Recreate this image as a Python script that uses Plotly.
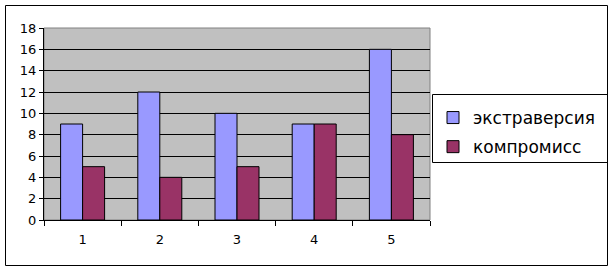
import plotly.graph_objects as go

categories = ["1", "2", "3", "4", "5"]
extraversion = [9, 12, 10, 9, 16]
compromise = [5, 4, 5, 9, 8]
series_names = ["экстраверсия", "компромисс"]
colors = ["#9999FF", "#993366"]

L, R, T, B = 44, 430, 28, 220
W, H = 613, 269
pw, ph = R - L, B - T

def px(x):
    return (x - L) / pw

def py(y):
    return (B - y) / ph

fig = go.Figure()
for i, (name, vals) in enumerate(zip(series_names, [extraversion, compromise])):
    fig.add_trace(go.Bar(
        x=categories, y=vals, name=name,
        marker=dict(color=colors[i], line=dict(color="black", width=1)),
        legendgroup=f"g{i}",
    ))

fig.update_layout(
    width=W, height=H,
    margin=dict(l=L, r=W - R, t=T, b=H - B, pad=0),
    paper_bgcolor="white",
    plot_bgcolor="#C0C0C0",
    barmode="group",
    bargap=0.43,
    bargroupgap=0,
    font=dict(family="DejaVu Sans", size=13, color="black"),
    showlegend=True,
    legend=dict(
        x=px(433), y=py(100), xanchor="left", yanchor="top",
        bgcolor="rgba(0,0,0,0)", borderwidth=0,
        font=dict(size=17, family="DejaVu Sans"),
        tracegroupgap=4,
        itemwidth=30,
    ),
    xaxis=dict(
        type="category",
        showgrid=False,
        showline=True, linecolor="black", linewidth=1,
        ticks="outside", tickson="boundaries", ticklen=5, tickcolor="black",
        tickfont=dict(size=13),
        ticklabelstandoff=7,
    ),
    yaxis=dict(
        range=[0, 18], dtick=2,
        showgrid=True, gridcolor="black", gridwidth=1,
        zeroline=False,
        showline=True, linecolor="black", linewidth=1,
        ticks="outside", ticklen=4, tickcolor="black",
        tickfont=dict(size=13),
    ),
    shapes=[
        dict(type="rect", xref="paper", yref="paper", x0=0, x1=1, y0=0, y1=1,
             line=dict(color="#808080", width=1), layer="below"),
        dict(type="rect", xref="paper", yref="paper",
             x0=px(5.5), x1=px(607.5), y0=py(265.5), y1=py(5.5),
             line=dict(color="black", width=1)),
        dict(type="rect", xref="paper", yref="paper",
             x0=px(432.5), x1=px(607.5), y0=py(162.5), y1=py(94.5),
             line=dict(color="black", width=1)),
    ],
)

fig.write_html("out.html")
